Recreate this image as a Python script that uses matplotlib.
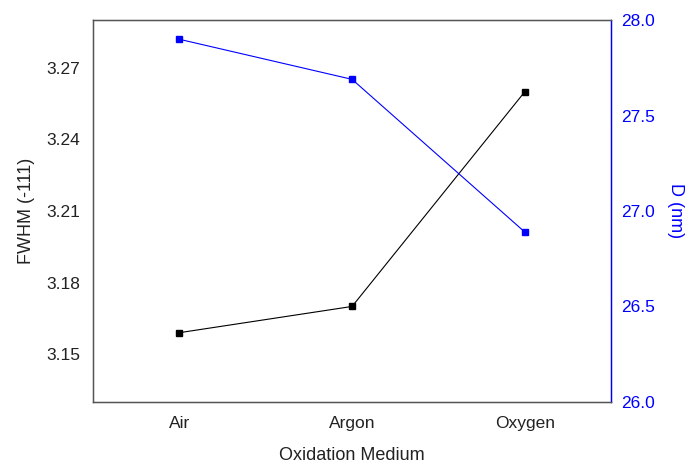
import matplotlib
matplotlib.use("Agg")
import matplotlib.pyplot as plt

# data
media = ["Air", "Argon", "Oxygen"]
fwhm = [3.159, 3.170, 3.260]
size_nm = [27.90, 27.69, 26.89]

fwhm_ticks = [3.15, 3.18, 3.21, 3.24, 3.27]
size_ticks = [26.0, 26.5, 27.0, 27.5, 28.0]

plt.rcParams['font.family'] = ['Liberation Sans', 'DejaVu Sans']

fig = plt.figure(figsize=(7, 4.7), dpi=100)
ax = fig.add_axes([0.133, 0.145, 0.740, 0.812])
ax2 = ax.twinx()

x = range(len(media))
ax.plot(x, fwhm, color='black', lw=0.8, marker='s', ms=5, zorder=3)
ax2.plot(x, size_nm, color='blue', lw=0.8, marker='s', ms=5, zorder=3)

ax.set_xlim(-0.5, 2.5)
ax.set_ylim(3.13, 3.29)
ax2.set_ylim(26.0, 28.0)

ax.set_xticks(list(x))
ax.set_xticklabels(media)
ax.set_yticks(fwhm_ticks)
ax.set_yticklabels([f"{v:.2f}" for v in fwhm_ticks])
ax2.set_yticks(size_ticks)
ax2.set_yticklabels([f"{v:.1f}" for v in size_ticks])

ax.tick_params(axis='both', length=0, labelsize=12.5, colors='#222222')
ax.tick_params(axis='y', pad=9)
ax.tick_params(axis='x', pad=10)
ax2.tick_params(axis='y', length=0, labelsize=12.5, colors='blue', pad=7)

ax.set_xlabel("Oxidation Medium", fontsize=13, color='#222222', labelpad=12)
ax.set_ylabel("FWHM (-111)", fontsize=13, color='#222222', labelpad=8)
ax2.set_ylabel("D (nm)", fontsize=13, color='blue', rotation=270,
               va='bottom', labelpad=9)

for side in ['left', 'top', 'bottom']:
    ax2.spines[side].set_color('#555555')
    ax2.spines[side].set_linewidth(1.0)
ax2.spines['right'].set_color('blue')
ax2.spines['right'].set_linewidth(1.0)

fig.savefig("out.png", dpi=100)
